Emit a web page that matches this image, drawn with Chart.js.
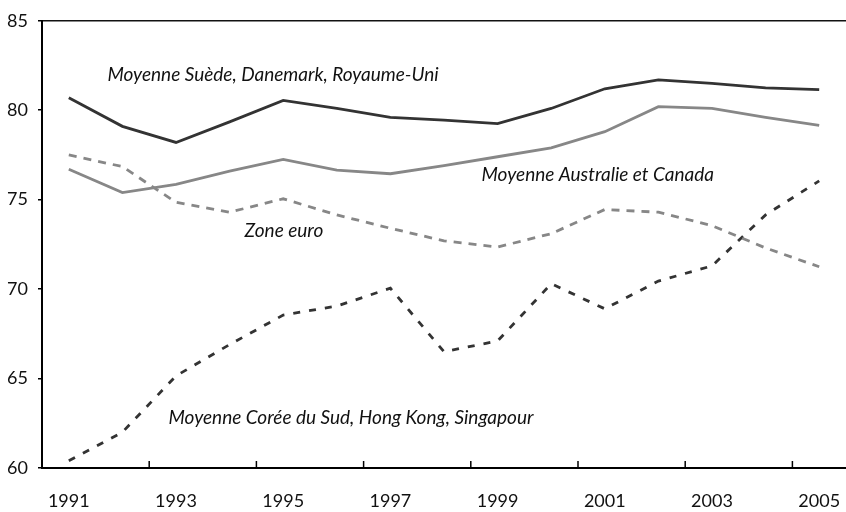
<!DOCTYPE html>
<html>
<head>
<meta charset="utf-8">
<script src="https://cdn.jsdelivr.net/npm/chart.js@4/dist/chart.umd.min.js"></script>
<style>
  html, body { margin: 0; padding: 0; background: #fff; }
  #wrap { width: 846px; height: 512px; }
</style>
</head>
<body>
<div id="wrap"><canvas id="chart" width="846" height="512"></canvas></div>
<script>
const years = ["1991", "1992", "1993", "1994", "1995", "1996", "1997", "1998",
  "1999", "2000", "2001", "2002", "2003", "2004", "2005"];

const nordicUk = [80.7, 79.1, 78.2, 79.35, 80.55, 80.1, 79.6, 79.45, 79.25, 80.1, 81.2, 81.7, 81.5, 81.25, 81.15];
const ausCan = [76.7, 75.4, 75.85, 76.6, 77.25, 76.65, 76.45, 76.9, 77.4, 77.9, 78.8, 80.2, 80.1, 79.6, 79.15];
const euroZone = [77.5, 76.85, 74.85, 74.3, 75.05, 74.15, 73.4, 72.7, 72.35, 73.1, 74.45, 74.3, 73.55, 72.3, 71.25];
const asiaTigers = [60.4, 62.0, 65.15, 66.9, 68.55, 69.05, 70.05, 66.5, 67.1, 70.3, 68.9, 70.45, 71.3, 74.15, 76.05];

const yTicks = [60, 65, 70, 75, 80, 85];

// series captions, placed in data units (category index, value)
const captions = [
  { text: "Moyenne Suède, Danemark, Royaume-Uni", at: [0.72, 82.0] },
  { text: "Moyenne Australie et Canada", at: [7.7, 76.4] },
  { text: "Zone euro", at: [3.28, 73.25] },
  { text: "Moyenne Corée du Sud, Hong Kong, Singapour", at: [1.86, 62.8] }
];

const FONT = "Lato, 'Open Sans', sans-serif";
const DARK = "#333333";
const GREY = "#878787";

const captionPlugin = {
  id: "captions",
  afterDatasetsDraw(chart) {
    const { ctx, scales: { x, y } } = chart;
    ctx.save();
    ctx.fillStyle = "#111";
    ctx.font = "italic 19px " + FONT;
    ctx.textAlign = "left";
    ctx.textBaseline = "middle";
    captions.forEach(c => {
      ctx.fillText(c.text, x.getPixelForValue(c.at[0]), y.getPixelForValue(c.at[1]));
    });
    ctx.restore();
  }
};

// inward tick marks on the category boundaries every two years
const innerTicks = {
  id: "innerTicks",
  afterDraw(chart) {
    const { ctx, scales: { x }, chartArea } = chart;
    ctx.save();
    ctx.strokeStyle = "#000";
    ctx.lineWidth = 1.5;
    for (let i = 2; i < years.length; i += 2) {
      const px = (x.getPixelForValue(i) + x.getPixelForValue(i - 1)) / 2;
      ctx.beginPath();
      ctx.moveTo(px, chartArea.bottom);
      ctx.lineTo(px, chartArea.bottom - 7);
      ctx.stroke();
    }
    ctx.restore();
  }
};

const ctx = document.getElementById("chart").getContext("2d");
new Chart(ctx, {
  type: "line",
  data: {
    labels: years,
    datasets: [
      { label: "Moyenne Suède, Danemark, Royaume-Uni", data: nordicUk, borderColor: DARK, borderWidth: 2.8 },
      { label: "Moyenne Australie et Canada", data: ausCan, borderColor: GREY, borderWidth: 2.8 },
      { label: "Zone euro", data: euroZone, borderColor: GREY, borderWidth: 2.8, borderDash: [8, 7] },
      { label: "Moyenne Corée du Sud, Hong Kong, Singapour", data: asiaTigers, borderColor: DARK, borderWidth: 2.8, borderDash: [7, 9] }
    ]
  },
  options: {
    responsive: false,
    animation: false,
    devicePixelRatio: 1,
    layout: { padding: { top: 16, right: -4, bottom: 0, left: 0 } },
    elements: {
      point: { radius: 0, hoverRadius: 0 },
      line: { tension: 0, fill: false, borderCapStyle: "butt" }
    },
    plugins: {
      legend: { display: false },
      tooltip: { enabled: false }
    },
    scales: {
      x: {
        type: "category",
        offset: true,
        grid: {
          display: true, offset: true, drawOnChartArea: false,
          drawTicks: true, tickLength: 19, tickColor: "rgba(0,0,0,0)"
        },
        border: { display: true, color: "#000", width: 2 },
        ticks: {
          autoSkip: false,
          maxRotation: 0,
          padding: 3,
          color: "#111",
          font: { family: FONT, size: 18 },
          callback: (v, i) => (i % 2 === 0 ? years[i] : "")
        },
        afterFit: s => { s.height = 44; }
      },
      y: {
        min: 60,
        max: 85,
        afterBuildTicks: s => { s.ticks = yTicks.map(v => ({ value: v })); },
        grid: {
          drawOnChartArea: true,
          color: c => (c.tick && c.tick.value === 85 ? "#111" : "rgba(0,0,0,0)"),
          lineWidth: 1.5,
          tickColor: "#000",
          tickLength: 4
        },
        border: { display: true, color: "#000", width: 2 },
        ticks: {
          padding: 10,
          color: "#111",
          font: { family: FONT, size: 18 }
        },
        afterFit: s => { s.width = 42; }
      }
    }
  },
  plugins: [captionPlugin, innerTicks]
});
</script>
</body>
</html>
